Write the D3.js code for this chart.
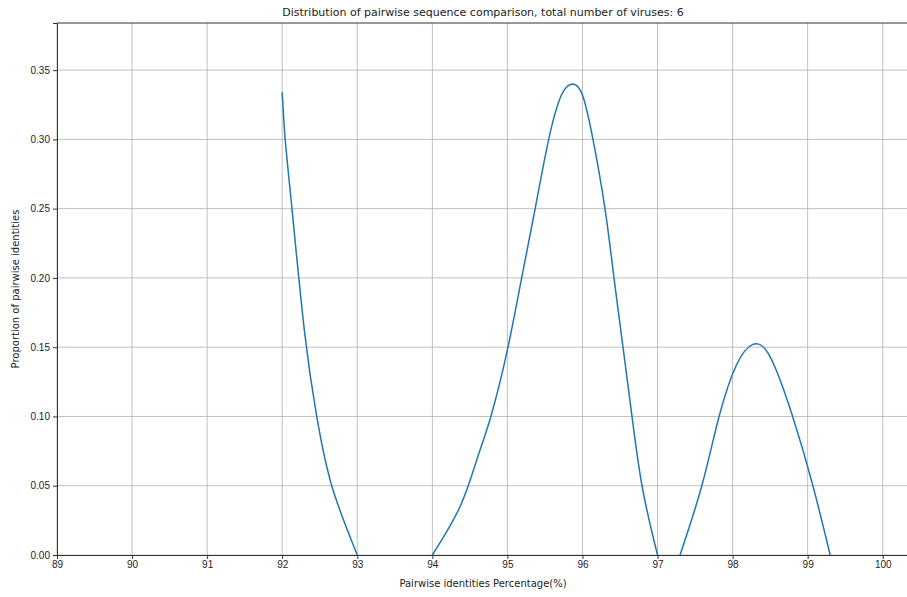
<!DOCTYPE html>
<html>
<head>
<meta charset="utf-8">
<script src="https://cdn.jsdelivr.net/npm/d3@7"></script>
<style>
  body { margin: 0; background: #fff; }
  svg { font-family: "DejaVu Sans", sans-serif; }
</style>
</head>
<body>
<div id="chart"></div>
<script>
// Data (pairwise identity %, proportion)
const seg1X = [92.0, 92.04, 92.13, 92.3, 92.46, 92.66, 93.0];
const seg1Y = [0.334, 0.30, 0.25, 0.16, 0.10, 0.05, 0.0];
const seg2X = [94.0, 94.37, 94.6, 94.78, 95.0, 95.19, 95.37, 95.55, 95.72, 95.87, 96.0, 96.14, 96.3, 96.42, 96.54, 96.66, 96.8, 97.0];
const seg2Y = [0.0, 0.035, 0.07, 0.10, 0.148, 0.20, 0.25, 0.30, 0.332, 0.34, 0.332, 0.30, 0.25, 0.20, 0.15, 0.10, 0.048, 0.0];
const seg3X = [97.3, 97.59, 97.82, 98.05, 98.27, 98.5, 98.8, 99.07, 99.3];
const seg3Y = [0.0, 0.05, 0.10, 0.137, 0.152, 0.143, 0.10, 0.05, 0.0];
const xTicks = [89, 90, 91, 92, 93, 94, 95, 96, 97, 98, 99, 100];
const yTicks = [0, 0.05, 0.10, 0.15, 0.20, 0.25, 0.30, 0.35];

const W = 907, H = 597;
const margin = { top: 23, right: -2, bottom: 42, left: 57 };
const width = W - margin.left - margin.right;
const height = H - margin.top - margin.bottom;

const svg = d3.select("#chart").append("svg")
    .attr("width", W)
    .attr("height", H);

const g = svg.append("g")
    .attr("transform", `translate(${margin.left},${margin.top})`);

const x = d3.scaleLinear().domain([89, 100.35]).range([0, width]);
const y = d3.scaleLinear().domain([0, 0.384]).range([height, 0]);

// grid
g.append("g")
    .selectAll("line")
    .data(xTicks)
    .join("line")
    .attr("x1", d => x(d)).attr("x2", d => x(d))
    .attr("y1", 0).attr("y2", height)
    .attr("stroke", "#b0b0b0").attr("stroke-width", 0.8);
g.append("g")
    .selectAll("line")
    .data(yTicks)
    .join("line")
    .attr("x1", 0).attr("x2", width)
    .attr("y1", d => y(d)).attr("y2", d => y(d))
    .attr("stroke", "#b0b0b0").attr("stroke-width", 0.8);

// segments
const segs = [
    seg1X.map((v, i) => [v, seg1Y[i]]),
    seg2X.map((v, i) => [v, seg2Y[i]]),
    seg3X.map((v, i) => [v, seg3Y[i]])
];
const line = d3.line()
    .x(d => x(d[0]))
    .y(d => y(d[1]))
    .curve(d3.curveNatural);

g.selectAll("path.seg")
    .data(segs)
    .join("path")
    .attr("class", "seg")
    .attr("fill", "none")
    .attr("stroke", "#1f77b4")
    .attr("stroke-width", 1.5)
    .attr("d", line);

// axes
const xAxis = g.append("g")
    .attr("transform", `translate(0,${height})`)
    .call(d3.axisBottom(x).tickValues(xTicks).tickFormat(d3.format("d")).tickSize(4).tickPadding(2));
const yAxis = g.append("g")
    .call(d3.axisLeft(y).tickValues(yTicks).tickFormat(d3.format(".2f")).tickSize(4).tickPadding(3));

[xAxis, yAxis].forEach(a => {
    a.selectAll("text").style("font-size", "10px").attr("fill", "#222");
    a.selectAll("line").attr("stroke", "#333");
    a.select(".domain").attr("stroke", "#333").attr("stroke-width", 1);
});

// top spine
g.append("line")
    .attr("x1", 0).attr("x2", width)
    .attr("y1", 0).attr("y2", 0)
    .attr("stroke", "#333");

// title & labels
svg.append("text")
    .attr("x", margin.left + width / 2)
    .attr("y", 16)
    .attr("text-anchor", "middle")
    .style("font-size", "11px")
    .attr("fill", "#222")
    .text("Distribution of pairwise sequence comparison, total number of viruses: 6");

svg.append("text")
    .attr("x", margin.left + width / 2)
    .attr("y", 587)
    .attr("text-anchor", "middle")
    .style("font-size", "10px")
    .attr("fill", "#222")
    .text("Pairwise identities Percentage(%)");

svg.append("text")
    .attr("transform", `translate(19,${margin.top + height / 2}) rotate(-90)`)
    .attr("text-anchor", "middle")
    .style("font-size", "10px")
    .attr("fill", "#222")
    .text("Proportion of pairwise identities");
</script>
</body>
</html>
